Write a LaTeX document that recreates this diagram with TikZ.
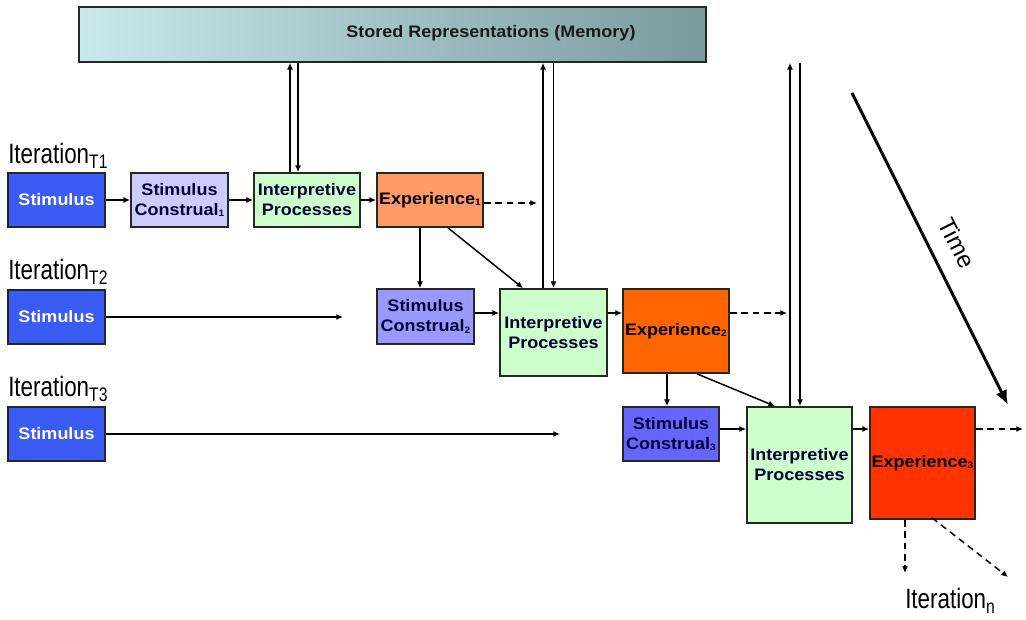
\documentclass[tikz,border=0pt]{standalone}
\usepackage{fontspec}
\setmainfont{Liberation Sans}
\newfontfamily\boxfont[FakeStretch=1.08]{Liberation Sans}
\newfontfamily\narrowfont[FakeStretch=0.8]{Liberation Sans}
\usetikzlibrary{arrows.meta,calc}
\definecolor{stimblue}{RGB}{58,92,245}
\definecolor{conA}{HTML}{CCCCFF}
\definecolor{conB}{HTML}{9999FF}
\definecolor{conC}{HTML}{6666FF}
\definecolor{intgreen}{HTML}{CCFFCC}
\definecolor{expA}{HTML}{FF9966}
\definecolor{expB}{HTML}{FF6600}
\definecolor{expC}{HTML}{FF3300}
\definecolor{navy}{HTML}{000033}
\definecolor{memlight}{HTML}{C8E8EC}
\definecolor{memdark}{HTML}{7A9A9E}
\newcommand{\sm}[1]{{\fontsize{7}{7}\selectfont\raisebox{-1pt}{#1}}}
\begin{document}
\begin{tikzpicture}[x=0.75pt,y=-0.75pt,
  box/.style={draw=black!85, line width=1.3pt, inner sep=0pt, align=center,
    font=\boxfont\bfseries\fontsize{12.5}{15}\selectfont},
  stimbox/.style={box, fill=stimblue, text=white, minimum width=72.75pt, minimum height=40.5pt},
  conbox/.style={box, text=navy, minimum width=72.75pt, minimum height=40.5pt},
  intbox/.style={box, fill=intgreen, text=navy, minimum width=79.5pt},
  expbox/.style={box, text=black, minimum width=79.5pt},
  iterlabel/.style={anchor=base west, inner sep=0pt, font=\narrowfont\fontsize{21}{24}\selectfont},
  arr/.style={line width=1.1pt, -{Latex[length=5pt,width=4.5pt]}},
  darr/.style={arr, dash pattern=on 5pt off 3.5pt}
]
\useasboundingbox (0,0) rectangle (1026,620);

% memory
\node[draw=black!85, line width=1.3pt, left color=memlight, right color=memdark,
  minimum width=470.25pt, minimum height=41.25pt, inner sep=0pt] (mem) at (392.5,34.5) {};
\node[font=\boxfont\bfseries\fontsize{12.5}{14}\selectfont, text=black!90] (memtext) at (491,33) {Stored Representations (Memory)};

% labels
\node[iterlabel] (it1) at (8,164) {Iteration\textsubscript{T1}};
\node[iterlabel] (it2) at (8,280) {Iteration\textsubscript{T2}};
\node[iterlabel] (it3) at (8,397) {Iteration\textsubscript{T3}};
\node[iterlabel] (itn) at (905,609) {Iteration\textsubscript{n}};

% row 1
\node[stimbox] (stim1) at (56.5,200) {Stimulus};
\node[conbox, fill=conA] (con1) at (179.5,200) {Stimulus\\Construal\sm{1}};
\node[intbox, minimum height=40.5pt] (int1) at (307,200) {Interpretive\\Processes};
\node[expbox, fill=expA, minimum height=40.5pt] (exp1) at (430,200) {Experience\sm{1}};

% row 2
\node[stimbox] (stim2) at (56.5,317) {Stimulus};
\node[conbox, fill=conB, minimum height=41.25pt] (con2) at (425.5,316.5) {Stimulus\\Construal\sm{2}};
\node[intbox, minimum width=80.25pt, minimum height=65.25pt] (int2) at (553.5,332.5) {Interpretive\\Processes};
\node[expbox, fill=expB, minimum height=63pt] (exp2) at (676,331) {Experience\sm{2}};

% row 3
\node[stimbox] (stim3) at (56.5,434) {Stimulus};
\node[conbox, fill=conC, minimum width=72pt] (con3) at (671,434) {Stimulus\\Construal\sm{3}};
\node[intbox, minimum width=78.75pt, minimum height=87pt] (int3) at (799.5,465) {Interpretive\\Processes};
\node[expbox, fill=expC, minimum width=78.75pt, minimum height=84pt] (exp3) at (922.5,463) {Experience\sm{3}};

% free ends
\coordinate (d1) at (537,203);
\coordinate (d2) at (787,313);
\coordinate (d3) at (1023,429);
\coordinate (s2e) at (343,317);
\coordinate (s3e) at (560,434);
\coordinate (dn) at (905,573);
\coordinate (dd) at (1008,577);

% row 1 connectors
\draw[arr] (stim1) -- (con1);
\draw[arr] (con1) -- (int1);
\draw[arr] (int1) -- (exp1);
\draw[darr] (exp1.east |- d1) -- (d1);

% row 2 connectors
\draw[arr] (stim2) -- (s2e);
\coordinate (e1a) at ($(exp1.south)+(-10,0)$);
\draw[arr] (e1a) -- (e1a |- con2.north);
\coordinate (e1b) at ($(exp1.south)+(18,0)$);
\coordinate (i2t) at ($(int2.north)+(-30.5,0)$);
\draw[arr] (e1b) -- (i2t);
\coordinate (r2) at (0,313);
\draw[arr] (con2.east |- r2) -- (int2.west |- r2);
\draw[arr] (int2.east |- r2) -- (exp2.west |- r2);
\draw[darr] (exp2.east |- d2) -- (d2);

% row 3 connectors
\draw[arr] (stim3) -- (s3e);
\coordinate (e2a) at ($(exp2.south)+(-9,0)$);
\draw[arr] (e2a) -- (e2a |- con3.north);
\coordinate (e2b) at ($(exp2.south)+(21,0)$);
\coordinate (i3t) at ($(int3.north)+(-24.5,0)$);
\draw[arr] (e2b) -- (i3t);
\coordinate (r3) at (0,429);
\draw[arr] (con3.east |- r3) -- (int3.west |- r3);
\draw[arr] (int3.east |- r3) -- (exp3.west |- r3);
\draw[darr] (exp3.east |- d3) -- (d3);
\coordinate (e3a) at ($(exp3.south)+(-17.5,0)$);
\draw[darr] (e3a) -- (dn);
\coordinate (e3b) at ($(exp3.south)+(9.5,-2)$);
\draw[darr] (e3b) -- (dd);

% memory connectors
\coordinate (m1a) at ($(int1.north)+(-17,0)$);
\coordinate (m1b) at ($(int1.north)+(-9,0)$);
\draw[arr] (m1a) -- (m1a |- mem.south);
\draw[arr] (m1b |- mem.south) -- (m1b);
\coordinate (m2a) at ($(int2.north)+(-10.5,0)$);
\coordinate (m2b) at ($(int2.north)+(0,0)$);
\draw[arr] (m2a) -- (m2a |- mem.south);
\draw[arr] (m2b |- mem.south) -- (m2b);
\coordinate (m3a) at ($(int3.north)+(-9.5,0)$);
\coordinate (m3b) at ($(int3.north)+(0.5,0)$);
\draw[arr] (m3a) -- (m3a |- mem.south);
\draw[arr] (m3b |- mem.south) -- (m3b);

% time
\coordinate (t0) at (852,93);
\coordinate (t1) at (1008,405);
\draw[line width=2.2pt, -{Latex[length=11pt,width=9pt]}] (t0) -- (t1);
\node[rotate=-63.4, font=\fontsize{18}{20}\selectfont] (time) at (957,243) {Time};
\end{tikzpicture}
\end{document}
